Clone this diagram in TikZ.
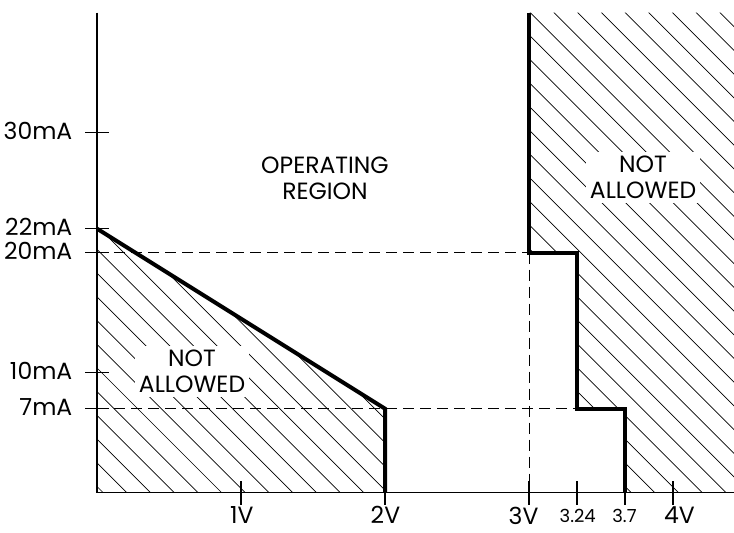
\documentclass[tikz,border=0pt]{standalone}
\usepackage{fontspec}
\setmainfont{Poppins}

\tikzset{
  hatch/.style={black,line width=0.7pt},
  thickline/.style={black,line width=4pt,line join=miter},
  guide/.style={black,line width=1pt,dash pattern=on 11pt off 6pt},
  axis/.style={black,line width=1.4pt},
  region/.style={fill=white,align=center,inner sep=4pt,font=\fontsize{23.5}{26}\selectfont},
  ticklabel/.style={inner sep=0pt,font=\fontsize{23.5}{26}\selectfont},
  smalllabel/.style={inner sep=0pt,font=\fontsize{18}{20}\selectfont}
}

\begin{document}
\begin{tikzpicture}[x=144pt,y=12pt]
        % border
        \useasboundingbox (-0.6736,-3.358) rectangle (4.4236,41.058);
        % hatching of the left region
        \begin{scope}
          \clip (0,0) -- (0,22) -- (2,7) -- (2,0) -- cycle;
          \begin{scope}[x=1pt,y=1pt]
            \foreach \k in {0,...,17}
              \draw[hatch] ({6.2+23.7*\k-600},600) -- ++(700,-700);
          \end{scope}
        \end{scope}
        % hatching of the right region
        \begin{scope}
          \clip (3,40) -- (3,20) -- (3.333,20) -- (3.333,7) -- (3.667,7)
                -- (3.667,0) -- (4.4236,0) -- (4.4236,40) -- cycle;
          \begin{scope}[x=1pt,y=1pt]
            \foreach \k in {15,...,50}
              \draw[hatch] ({12.8+23.7*\k-700},700) -- ++(800,-800);
          \end{scope}
        \end{scope}
        % corner points
        \coordinate (o) at (0,0);
        \coordinate (ytop) at (0,40);
        \coordinate (xend) at (4.4236,0);
        \coordinate (a22) at (0,22);
        \coordinate (a20) at (0,20);
        \coordinate (a7) at (0,7);
        \coordinate (b7) at (2,7);
        \coordinate (b0) at (2,0);
        \coordinate (c40) at (3,40);
        \coordinate (c20) at (3,20);
        \coordinate (c0) at (3,0);
        \coordinate (d20) at (3.333,20);
        \coordinate (d7) at (3.333,7);
        \coordinate (e7) at (3.667,7);
        \coordinate (e0) at (3.667,0);
        % dashed guides
        \draw[guide] (a20) -- (c20);
        \draw[guide] (a7) -- (d7);
        \draw[guide] (c20) -- (c0);
        % axes
        \draw[axis] (ytop) -- (o) -- (xend);
        % y ticks
        \foreach \v in {30,22,20,10,7}
          \draw[axis] (-0.0833,\v) -- (0.0833,\v);
        % x ticks
        \foreach \u in {1,2,3,3.333,3.667,4}
          \draw[axis] (\u,-1) -- (\u,1);
        % boundaries
        \draw[thickline] (a22) -- (b7) -- (b0);
        \draw[thickline] (c40) -- (c20) -- (d20) -- (d7) -- (e7) -- (e0);
        % y labels
        \node (l30) [ticklabel,anchor=east] at (-0.17,30.17) {30mA};
        \node (l22) [ticklabel,anchor=east] at (-0.17,22.17) {22mA};
        \node (l20) [ticklabel,anchor=east] at (-0.17,20.17) {20mA};
        \node (l10) [ticklabel,anchor=east] at (-0.17,10.17) {10mA};
        \node (l7) [ticklabel,anchor=east] at (-0.17,7.17) {7mA};
        % x labels
        \node (v1) [ticklabel,anchor=north] at (1.005,-1.15) {1V};
        \node (v2) [ticklabel,anchor=north] at (2.003,-1.15) {2V};
        \node (v3) [ticklabel,anchor=north] at (2.962,-1.15) {3V};
        \node (v324) [smalllabel,anchor=north] at (3.338,-1.35) {3.24};
        \node (v37) [smalllabel,anchor=north] at (3.663,-1.35) {3.7};
        \node (v4) [ticklabel,anchor=north] at (4.045,-1.15) {4V};
        % region labels
        \node (opreg) [region] at (1.583,26.19) {OPERATING\\REGION};
        \node (naleft) [region] at (0.66,10.08) {NOT\\ALLOWED};
        \node (naright) [region] at (3.792,26.27) {NOT\\ALLOWED};
    \end{tikzpicture}
\end{document}
